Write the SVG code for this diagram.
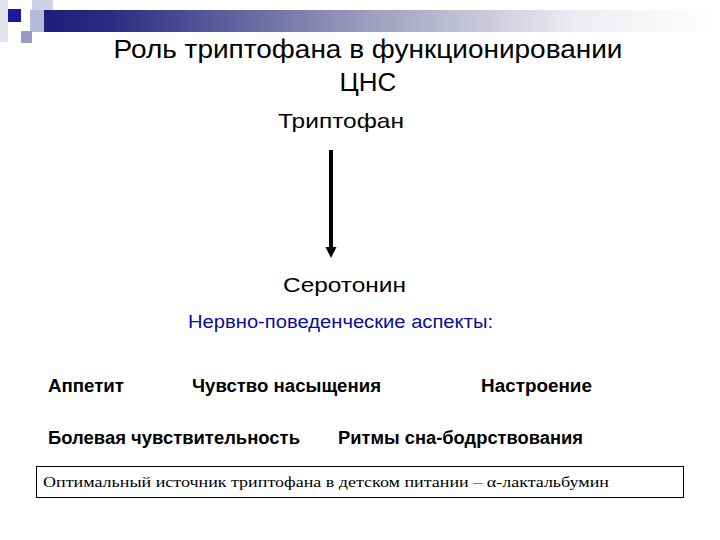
<svg xmlns="http://www.w3.org/2000/svg" width="720" height="540" viewBox="0 0 720 540">
<defs>
<linearGradient id="bar" x1="0" y1="0" x2="1" y2="0">
<stop offset="0" stop-color="#1a1a7a"/>
<stop offset="0.12" stop-color="#2c2c84"/>
<stop offset="0.5" stop-color="#a0a0c0"/>
<stop offset="0.8" stop-color="#eeeef3"/>
<stop offset="1" stop-color="#ffffff"/>
</linearGradient>
<style>
.sans{font-family:"Liberation Sans",Arial,sans-serif;}
.title{font-size:26px;fill:#000;text-anchor:middle;}
.node{font-size:21px;fill:#000;text-anchor:middle;}
.blue{font-size:18px;fill:#0a0aa0;text-anchor:middle;}
.bold{font-size:18px;font-weight:bold;fill:#000;}
.serif{font-family:"Liberation Serif","Times New Roman",serif;font-size:15.5px;fill:#000;}
</style>
</defs>
<rect width="720" height="540" fill="#fff"/>
<g id="decor">
<rect x="0" y="0" width="8" height="42" fill="#e4e4f0"/>
<rect x="32" y="0" width="21" height="10" fill="#d0d0e8"/>
<rect x="30" y="10" width="690" height="22" fill="url(#bar)"/>
<rect x="30" y="10" width="14" height="22" fill="#b8b8d8"/>
<rect x="8" y="9" width="13" height="13" fill="#1a1a9a"/>
<rect x="21" y="31" width="11" height="12" fill="#9a9ac8"/>
</g>
<g id="title" class="sans">
<text class="title" x="368" y="58" textLength="509" lengthAdjust="spacingAndGlyphs">Роль триптофана в функционировании</text>
<text class="title" x="368" y="91">ЦНС</text>
</g>
<g id="tryptophan" class="sans"><text class="node" x="341" y="128" textLength="126" lengthAdjust="spacingAndGlyphs">Триптофан</text></g>
<g id="serotonin" class="sans"><text class="node" x="344.5" y="292" textLength="123" lengthAdjust="spacingAndGlyphs">Серотонин</text></g>
<g id="connectors">
<line x1="331" y1="150" x2="331" y2="248" stroke="#000" stroke-width="4"/>
<polygon points="325.5,247 336.5,247 331,258" fill="#000"/>
</g>
<g id="aspects" class="sans"><text class="blue" x="340.5" y="328" textLength="305" lengthAdjust="spacingAndGlyphs">Нервно-поведенческие аспекты:</text></g>
<g id="appetite" class="sans"><text class="bold" x="48" y="392" textLength="76" lengthAdjust="spacingAndGlyphs">Аппетит</text></g>
<g id="satiety" class="sans"><text class="bold" x="192" y="392" textLength="189" lengthAdjust="spacingAndGlyphs">Чувство насыщения</text></g>
<g id="mood" class="sans"><text class="bold" x="481" y="392" textLength="111" lengthAdjust="spacingAndGlyphs">Настроение</text></g>
<g id="pain" class="sans"><text class="bold" x="48" y="444" textLength="252" lengthAdjust="spacingAndGlyphs">Болевая чувствительность</text></g>
<g id="rhythms" class="sans"><text class="bold" x="338" y="444" textLength="245" lengthAdjust="spacingAndGlyphs">Ритмы сна-бодрствования</text></g>
<g id="note">
<rect x="36.5" y="466.5" width="647" height="31" fill="#fff" stroke="#000" stroke-width="1"/>
<text class="serif" x="43" y="487" textLength="566" lengthAdjust="spacingAndGlyphs">Оптимальный источник триптофана в детском питании – α-лактальбумин</text>
</g>
</svg>
